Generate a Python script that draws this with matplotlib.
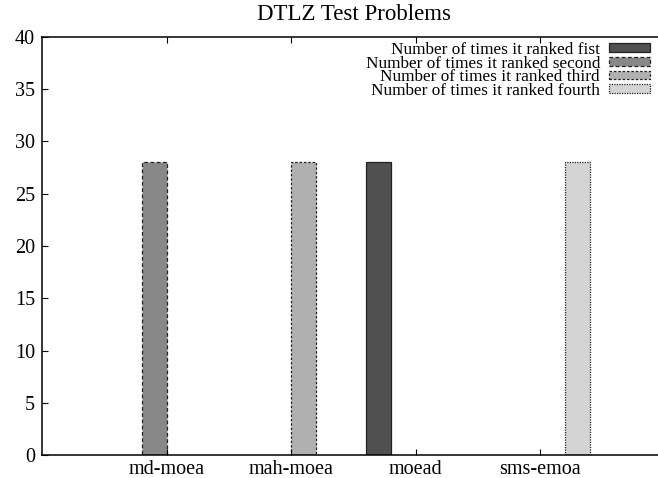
import numpy as np
import matplotlib
matplotlib.use("Agg")
from matplotlib import pyplot as plt

categories = ["md-moea", "mah-moea", "moead", "sms-emoa"]
series_names = [
    "Number of times it ranked fist",
    "Number of times it ranked second",
    "Number of times it ranked third",
    "Number of times it ranked fourth",
]
ranked_first = [0, 0, 28, 0]
ranked_second = [28, 0, 0, 0]
ranked_third = [0, 28, 0, 0]
ranked_fourth = [0, 0, 0, 28]
yticks = [0, 5, 10, 15, 20, 25, 30, 35, 40]

plt.rcParams["font.family"] = ["Liberation Serif", "DejaVu Serif"]

fig = plt.figure(figsize=(6.58, 4.78), dpi=100)
# gnuplot-style frame; right side runs past the picture edge
ax = fig.add_axes([42 / 658, 23 / 478, 622.5 / 658, 418 / 478])

series = [ranked_first, ranked_second, ranked_third, ranked_fourth]
fills = ["#505050", "#888888", "#b0b0b0", "#d4d4d4"]
styles = ["solid", (0, (3, 2)), (0, (2, 1.5)), (0, (1, 1))]
width = 0.2
x = np.arange(len(categories))

for i, (vals, name, fc, ls) in enumerate(zip(series, series_names, fills, styles)):
    vals = np.array(vals, dtype=float)
    heights = np.where(vals > 0, vals, np.nan)
    ax.bar(x + (i - 1.5) * width, heights, width, color=fc, edgecolor="#222222",
           linewidth=0.9, linestyle=ls, label=name)

ax.set_xlim(-1, 4)
ax.set_ylim(0, 40)
ax.set_yticks(yticks)
ax.set_xticks(x)
ax.set_xticklabels(categories)
ax.tick_params(axis="both", direction="in", length=4, width=0.8, labelsize=14.5)
ax.tick_params(axis="x", top=True, pad=3.5)
ax.tick_params(axis="y", pad=5)
for s in ax.spines.values():
    s.set_linewidth(1.1)

fig.text(354 / 658, 1 - 14 / 478, "DTLZ Test Problems", ha="center", va="center",
         fontsize=16.5)

ax.legend(loc="upper right", bbox_to_anchor=(650 / 658, 436 / 478),
          bbox_transform=fig.transFigure, markerfirst=False, frameon=False,
          fontsize=12.4, labelspacing=-0.14, handlelength=2.4, handleheight=0.4,
          handletextpad=0.5, borderpad=0, borderaxespad=0)

fig.savefig("out.png", dpi=100)
